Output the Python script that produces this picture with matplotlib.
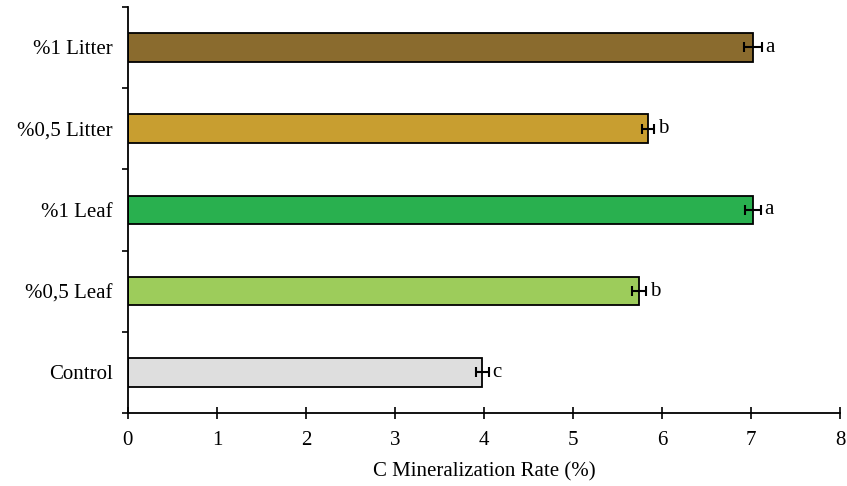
import matplotlib.pyplot as plt
from matplotlib.ticker import FixedLocator

plt.rcParams['font.family'] = ['Liberation Serif', 'DejaVu Serif']

treatments = ['Control', '%0,5 Leaf', '%1 Leaf', '%0,5 Litter', '%1 Litter']
rates = [3.98, 5.74, 7.02, 5.84, 7.02]
errors = [0.07, 0.08, 0.09, 0.07, 0.10]
letters = ['c', 'b', 'a', 'b', 'a']
colors = ['#DEDEDE', '#9DCC5B', '#29B04F', '#C89E30', '#8A6B2E']

fig = plt.figure(figsize=(8.47, 4.86), dpi=100)
ax = fig.add_axes([0.151, 0.15, 0.841, 0.836])

y = range(len(treatments))
ax.barh(y, rates, height=0.35, color=colors, edgecolor='black', linewidth=1.3,
        xerr=errors, error_kw=dict(ecolor='black', elinewidth=1.5, capsize=3.5, capthick=1.5))

for i, (r, e, l) in enumerate(zip(rates, errors, letters)):
    ax.text(r + e + 0.04, i, l, va='center', ha='left', fontsize=15)

ax.set_xlim(0, 8)
ax.set_ylim(-0.5, 4.5)
ax.set_xticks(range(9))
ax.set_yticks(list(y))
ax.set_yticklabels(treatments, fontsize=15)
ax.yaxis.set_minor_locator(FixedLocator([-0.5, 0.5, 1.5, 2.5, 3.5, 4.5]))
ax.tick_params(axis='y', which='major', length=0, pad=11)
ax.tick_params(axis='y', which='minor', length=4, width=1.2, direction='out')
ax.tick_params(axis='x', length=8, width=1.2, direction='inout', labelsize=15, pad=9)
ax.set_xlabel('C Mineralization Rate (%)', fontsize=15, labelpad=9)

for s in ['top', 'right']:
    ax.spines[s].set_visible(False)
for s in ['left', 'bottom']:
    ax.spines[s].set_linewidth(1.3)

fig.savefig('out.png', dpi=100)
